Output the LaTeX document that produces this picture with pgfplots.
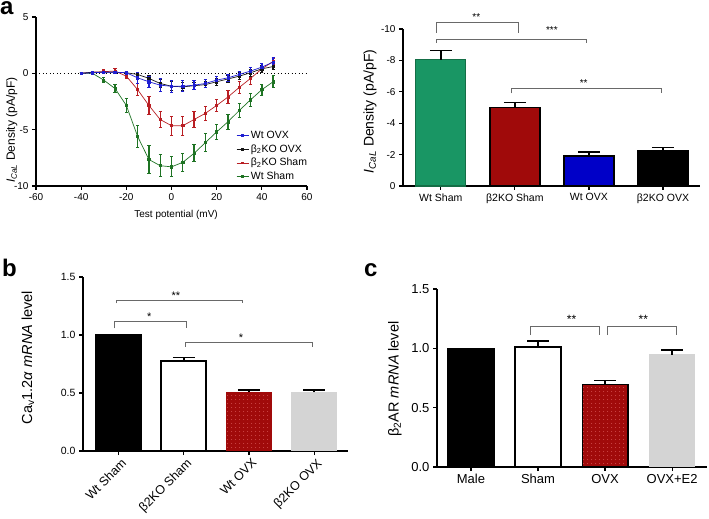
\documentclass[border=0pt]{standalone}
\usepackage{fontspec}
\setmainfont{Liberation Sans}
\usepackage{pgfplots}
\usepackage{pgfplotstable}
\pgfplotsset{compat=1.18}
\usetikzlibrary{patterns.meta}

\definecolor{cblue}{RGB}{30,30,210}
\definecolor{cblack}{RGB}{20,20,20}
\definecolor{cred}{RGB}{185,30,35}
\definecolor{cgreen}{RGB}{30,115,35}
\definecolor{barGreen}{RGB}{25,150,100}
\definecolor{barGreenE}{RGB}{20,110,70}
\definecolor{darkred}{RGB}{160,10,10}
\definecolor{barBlue}{RGB}{0,0,200}
\definecolor{lgrey}{RGB}{212,212,212}
\definecolor{brk}{RGB}{105,105,105}

\pgfplotstableread{
x y e
-40 0 0.05
-35 0 0.1
-30 -0.6 0.25
-25 -1.35 0.35
-20 -2.85 0.6
-15 -5.6 1.0
-10 -7.65 1.25
-5 -8.2 1.0
0 -8.3 0.9
5 -7.9 0.8
10 -7.1 0.75
15 -6.15 0.8
20 -5.2 0.65
25 -4.3 0.65
30 -3.3 0.65
35 -2.35 0.6
40 -1.45 0.5
45 -0.75 0.55
}\wtsham
\pgfplotstableread{
x y e
-40 0 0.05
-35 0.1 0.1
-30 0.15 0.15
-25 0.2 0.2
-20 -0.25 0.25
-15 -1.45 0.55
-10 -2.85 0.8
-5 -4.1 0.75
0 -4.65 0.85
5 -4.65 0.85
10 -4.1 0.75
15 -3.55 0.6
20 -2.85 0.5
25 -2.1 0.55
30 -1.25 0.5
35 -0.45 0.55
40 0.4 0.3
45 1.05 0.3
}\kosham
\pgfplotstableread{
x y e
-40 0 0.05
-35 0.1 0.05
-30 0.1 0.1
-25 0.1 0.1
-20 0.05 0.15
-15 -0.1 0.2
-10 -0.45 0.3
-5 -0.9 0.35
0 -1.15 0.4
5 -1.2 0.35
10 -1.1 0.3
15 -1.0 0.3
20 -0.75 0.3
25 -0.5 0.3
30 -0.25 0.3
35 0.05 0.3
40 0.4 0.3
45 0.6 0.3
}\koovx
\pgfplotstableread{
x y e
-40 0 0.05
-35 0.05 0.05
-30 0.1 0.1
-25 0.1 0.1
-20 0.05 0.1
-15 -0.4 0.5
-10 -0.75 0.5
-5 -1.05 0.55
0 -1.15 0.55
5 -1.15 0.5
10 -1.05 0.4
15 -0.9 0.35
20 -0.6 0.3
25 -0.4 0.3
30 -0.1 0.3
35 0.2 0.3
40 0.55 0.3
45 1.0 0.4
}\wtovx

\tikzset{bk/.style={brk, line width=0.8pt}}
\pgfplotsset{
  prism/.style={
    scale only axis, clip=false,
    axis x line=bottom, axis y line=left,
    axis line style={line width=1.2pt,-},
    tick style={line width=1.2pt, black},
    tick align=outside, major tick length=4pt,
    /pgf/number format/assume math mode=true,
  },
  ivline/.style={mark=square*, mark size=1.1pt, line width=0.7pt,
    error bars/.cd, y dir=both, y explicit,
    error bar style={line width=1.4pt},
    error mark options={rotate=90, line width=1pt, mark size=1.6pt}},
  barerr/.style={bar shift=0pt,
    error bars/.cd, y dir=#1, y explicit,
    error bar style={black, line width=1.6pt},
    error mark options={rotate=90, black, line width=1.6pt, mark size=11pt}},
}

\begin{document}
\begin{tikzpicture}
\useasboundingbox (0,0) rectangle (709pt,519pt);

\node[anchor=base west, font=\bfseries\fontsize{24}{24}\selectfont, inner sep=0pt] at (0pt,504pt) {a};
\node[anchor=base west, font=\bfseries\fontsize{24}{24}\selectfont, inner sep=0pt] at (2pt,242pt) {b};
\node[anchor=base west, font=\bfseries\fontsize{24}{24}\selectfont, inner sep=0pt] at (364pt,242pt) {c};

% ---------- panel a, left
\begin{axis}[prism, at={(36pt,333pt)}, anchor=south west, width=271pt, height=169pt,
  xmin=-60, xmax=60, ymin=-10, ymax=5,
  xtick={-60,-40,...,60}, ytick={-10,-5,0,5},
  ticklabel style={font=\fontsize{10}{12}\selectfont},
  xlabel={Test potential (mV)},
  xlabel style={font=\fontsize{10}{12}\selectfont, at={(axis description cs:0.517,-0.172)}, anchor=center},
  ylabel={\textit{I}\textsubscript{\textit{CaL}} Density (pA/pF)},
  ylabel style={font=\fontsize{12}{14}\selectfont, at={(axis description cs:-0.089,0.33)}, anchor=center},
  legend style={at={(axis description cs:0.738,0.337)}, anchor=north west, draw=none, fill=none,
    font=\fontsize{10.5}{12.5}\selectfont, inner sep=0pt, row sep=0.6pt},
  legend cell align=left, reverse legend,
  legend image code/.code={\draw[mark repeat=2,mark phase=2, line width=0.7pt, mark size=0.9pt] plot coordinates {(0pt,0pt) (6pt,0pt) (12pt,0pt)};},
]
\addplot[black, line width=0.8pt, dash pattern=on 1pt off 2.5pt, forget plot] coordinates {(-60,0) (60,0)};
\addplot[cgreen, ivline] table[x=x, y=y, y error=e] {\wtsham};
\addlegendentry{Wt Sham}
\addplot[cred, ivline] table[x=x, y=y, y error=e] {\kosham};
\addlegendentry{β\textsubscript{2}KO Sham}
\addplot[cblack, ivline] table[x=x, y=y, y error=e] {\koovx};
\addlegendentry{β\textsubscript{2}KO OVX}
\addplot[cblue, ivline] table[x=x, y=y, y error=e] {\wtovx};
\addlegendentry{Wt OVX}
\end{axis}

% ---------- panel a, right
\begin{axis}[prism, ybar, bar shift=0pt, bar width=0.676,
  at={(403pt,333pt)}, anchor=south west, width=297pt, height=157pt,
  xmin=-0.51, xmax=3.5, ymin=-10, ymax=0, y dir=reverse,
  ytick={-10,-8,...,0}, xtick={0,1,2,3},
  xticklabels={Wt Sham, β2KO Sham, Wt OVX, β2KO OVX},
  xticklabel style={font=\fontsize{10.5}{12}\selectfont},
  yticklabel style={font=\fontsize{10}{12}\selectfont},
  ylabel={\textit{I}\textsubscript{\textit{CaL}} Density (pA/pF)},
  ylabel style={font=\fontsize{14}{16}\selectfont, at={(axis description cs:-0.111,0.475)}, anchor=center},
]
\addplot[fill=barGreen, draw=barGreenE, line width=1.2pt, barerr=minus] coordinates {(0,-8.05) +- (0,0.57)};
\addplot[fill=darkred, draw=black, line width=1.5pt, barerr=minus] coordinates {(1,-5.0) +- (0,0.32)};
\addplot[fill=barBlue, draw=black, line width=1.5pt, barerr=minus] coordinates {(2,-1.92) +- (0,0.25)};
\addplot[fill=black, draw=black, line width=1.5pt, barerr=minus] coordinates {(3,-2.24) +- (0,0.21)};
\draw[bk] (axis cs:-0.06,-9.76) -- (axis cs:-0.06,-10.4) -- (axis cs:1.05,-10.4) -- (axis cs:1.05,-9.76);
\node[font=\fontsize{10}{10}\selectfont] at (axis cs:0.48,-10.75) {**};
\draw[bk] (axis cs:-0.06,-9.13) -- (axis cs:-0.06,-9.34) -- (axis cs:1.97,-9.34) -- (axis cs:1.97,-9.13);
\node[font=\fontsize{10}{10}\selectfont] at (axis cs:1.50,-9.95) {***};
\draw[bk] (axis cs:0.96,-5.9) -- (axis cs:0.96,-6.22) -- (axis cs:2.98,-6.22) -- (axis cs:2.98,-5.9);
\node[font=\fontsize{10}{10}\selectfont] at (axis cs:1.93,-6.55) {**};
\end{axis}

% ---------- panel b
\begin{axis}[prism, ybar, bar shift=0pt, bar width=0.69,
  at={(83pt,68pt)}, anchor=south west, width=265pt, height=174pt,
  xmin=-0.546, xmax=3.52, ymin=0, ymax=1.5,
  ytick={0,0.5,1,1.5},
  yticklabel style={font=\fontsize{10.5}{12}\selectfont, /pgf/number format/.cd, fixed, fixed zerofill, precision=1},
  xtick={0,1,2,3},
  xticklabels={Wt Sham, β2KO Sham, Wt OVX, β2KO OVX},
  xticklabel style={font=\fontsize{12.5}{14}\selectfont, rotate=45, anchor=north east, xshift=3pt},
  ylabel={Ca\textsubscript{v}1.2\textit{α} \textit{mRNA} level},
  ylabel style={font=\fontsize{14.5}{16}\selectfont, at={(axis description cs:-0.208,0.537)}, anchor=center},
]
\addplot[fill=black, draw=black, line width=1.5pt, bar shift=0pt] coordinates {(0,1.0)};
\addplot[fill=white, draw=black, line width=2pt, barerr=plus] coordinates {(1,0.772) +- (0,0.035)};
\addplot[fill=darkred, draw=darkred, line width=1pt, postaction={pattern={Dots[distance=4pt, radius=0.45pt]}, pattern color=red!45!white}, barerr=plus] coordinates {(2,0.507) +- (0,0.02)};
\addplot[fill=lgrey, draw=lgrey, line width=1pt, barerr=plus] coordinates {(3,0.505) +- (0,0.02)};
\draw[bk] (axis cs:-0.03,1.273) -- (axis cs:-0.03,1.302) -- (axis cs:1.90,1.302) -- (axis cs:1.90,1.273);
\node[font=\fontsize{11}{11}\selectfont] at (axis cs:0.88,1.34) {**};
\draw[bk] (axis cs:-0.07,1.058) -- (axis cs:-0.07,1.115) -- (axis cs:1.04,1.115) -- (axis cs:1.04,1.058);
\node[font=\fontsize{11}{11}\selectfont] at (axis cs:0.47,1.16) {*};
\draw[bk] (axis cs:1.03,0.90) -- (axis cs:1.03,0.934) -- (axis cs:2.97,0.934) -- (axis cs:2.97,0.90);
\node[font=\fontsize{11}{11}\selectfont] at (axis cs:1.88,0.975) {*};
\end{axis}

% ---------- panel c
\begin{axis}[prism, ybar, bar shift=0pt, bar width=0.68,
  at={(437pt,52pt)}, anchor=south west, width=270pt, height=178pt,
  xmin=-0.507, xmax=3.52, ymin=0, ymax=1.5,
  ytick={0,0.5,1,1.5},
  yticklabel style={font=\fontsize{13}{15}\selectfont, /pgf/number format/.cd, fixed, fixed zerofill, precision=1},
  xtick={0,1,2,3},
  xticklabels={Male, Sham, OVX, OVX+E2},
  xticklabel style={font=\fontsize{13}{15}\selectfont},
  ylabel={β\textsubscript{2}AR \textit{mRNA} level},
  ylabel style={font=\fontsize{14.5}{16}\selectfont, at={(axis description cs:-0.156,0.494)}, anchor=center},
]
\addplot[fill=black, draw=black, line width=1.5pt, bar shift=0pt] coordinates {(0,1.0)};
\addplot[fill=white, draw=black, line width=2pt, barerr=plus] coordinates {(1,1.015) +- (0,0.045)};
\addplot[fill=darkred, draw=black, line width=1.5pt, postaction={pattern={Dots[distance=4pt, radius=0.45pt]}, pattern color=red!45!white}, barerr=plus] coordinates {(2,0.695) +- (0,0.035)};
\addplot[fill=lgrey, draw=lgrey, line width=1pt, barerr=plus] coordinates {(3,0.945) +- (0,0.04)};
\draw[bk] (axis cs:0.89,1.112) -- (axis cs:0.89,1.188) -- (axis cs:1.92,1.188) -- (axis cs:1.92,1.112);
\node[font=\fontsize{12}{12}\selectfont] at (axis cs:1.50,1.24) {**};
\draw[bk] (axis cs:2.04,1.112) -- (axis cs:2.04,1.188) -- (axis cs:3.07,1.188) -- (axis cs:3.07,1.112);
\node[font=\fontsize{12}{12}\selectfont] at (axis cs:2.57,1.24) {**};
\end{axis}
\end{tikzpicture}
\end{document}
